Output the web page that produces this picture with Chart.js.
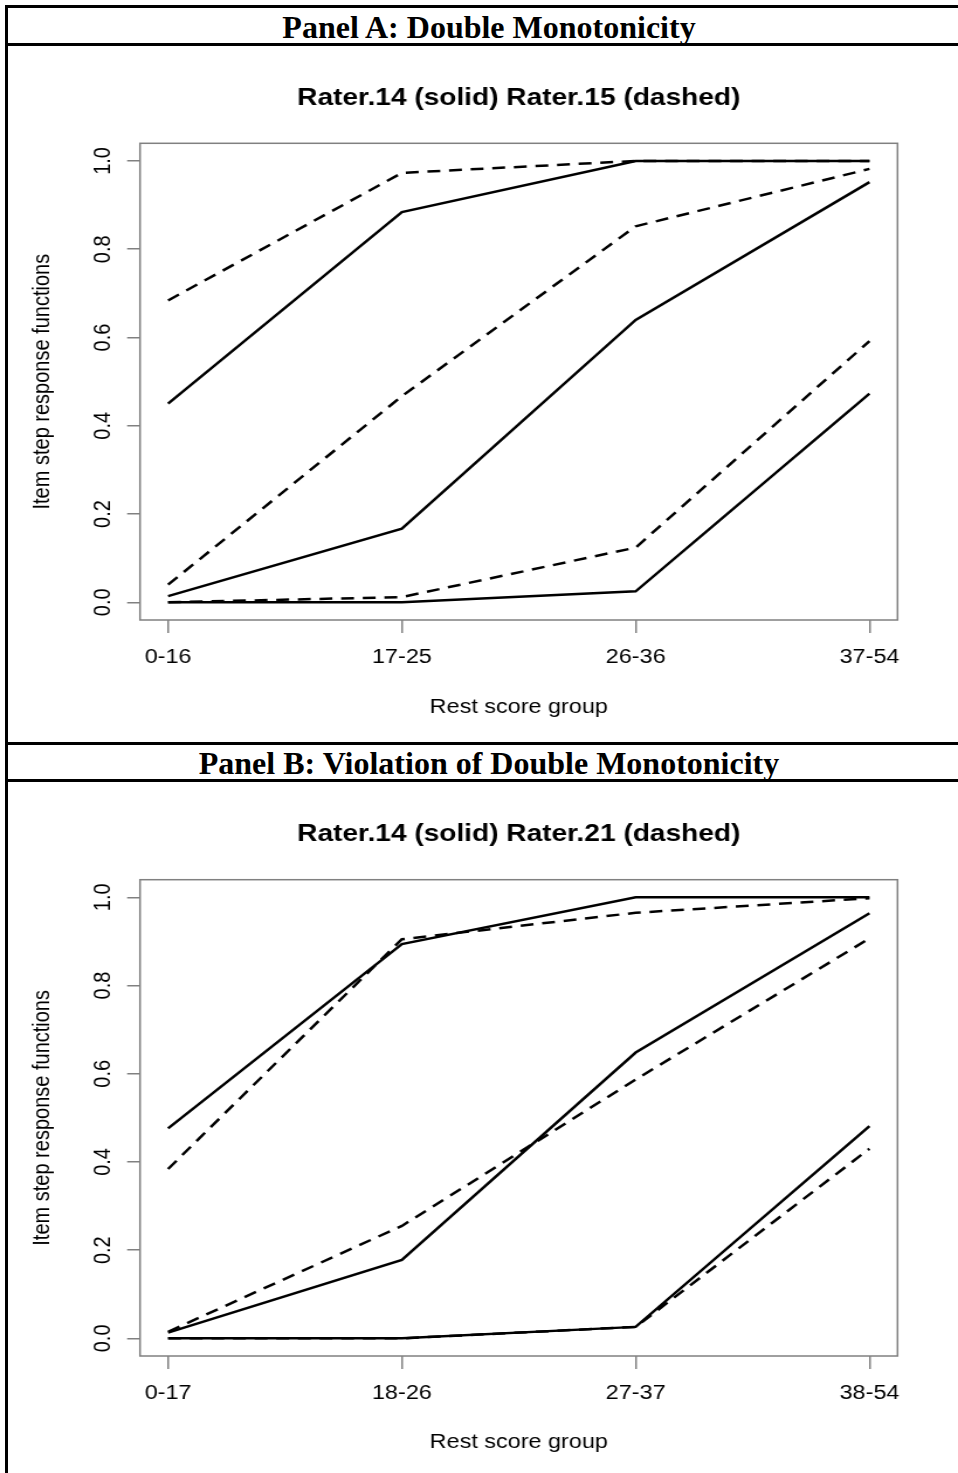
<!DOCTYPE html>
<html>
<head>
<meta charset="utf-8">
<script src="https://cdn.jsdelivr.net/npm/chart.js@4.4.1/dist/chart.umd.min.js"></script>
<style>
  body { margin: 0; background: #fff; width: 958px; height: 1473px; position: relative; overflow: hidden; }
  .rule { position: absolute; background: #000; }
  .panel-title { position: absolute; left: 8px; width: 962px; text-align: center; font: bold 32px "Liberation Serif", "Times New Roman", serif; line-height: 38px; color: #000; white-space: nowrap; }
  .plot { position: absolute; left: 0; width: 819px; transform-origin: 0 0; transform: scaleX(1.16972); }
  .plot canvas { display: block; }
</style>
</head>
<body>
<div class="plot" style="top:46px;height:695px"><canvas id="chartA" width="819" height="695"></canvas></div>
<div class="plot" style="top:782px;height:691px"><canvas id="chartB" width="819" height="691"></canvas></div>

<div class="rule" style="left:5px;top:5px;width:953px;height:3px"></div>
<div class="rule" style="left:5px;top:43px;width:953px;height:3px"></div>
<div class="rule" style="left:5px;top:742px;width:953px;height:3px"></div>
<div class="rule" style="left:5px;top:779px;width:953px;height:3px"></div>
<div class="rule" style="left:5px;top:5px;width:2.5px;height:1468px"></div>
<div class="panel-title" style="top:8px">Panel A: Double Monotonicity</div>
<div class="panel-title" style="top:744px">Panel B: Violation of Double Monotonicity</div>

<script>
const groupsA = ['0-16', '17-25', '26-36', '37-54'];
const groupsB = ['0-17', '18-26', '27-37', '38-54'];
const yTicks = [0, 0.2, 0.4, 0.6, 0.8, 1.0];

// Panel A: Rater.14 (solid) vs Rater.15 (dashed), one line per item step
const rater14A_step1 = [0.450, 0.884, 1.000, 1.000];
const rater14A_step2 = [0.014, 0.167, 0.640, 0.952];
const rater14A_step3 = [0.000, 0.000, 0.025, 0.473];
const rater15A_step1 = [0.684, 0.973, 1.000, 1.000];
const rater15A_step2 = [0.040, 0.467, 0.852, 0.982];
const rater15A_step3 = [0.000, 0.012, 0.124, 0.592];

// Panel B: Rater.14 (solid) vs Rater.21 (dashed)
const rater14B_step1 = [0.476, 0.894, 1.000, 1.000];
const rater14B_step2 = [0.013, 0.178, 0.648, 0.964];
const rater14B_step3 = [0.000, 0.000, 0.026, 0.481];
const rater21B_step1 = [0.384, 0.905, 0.965, 0.998];
const rater21B_step2 = [0.015, 0.255, 0.587, 0.907];
const rater21B_step3 = [0.000, 0.000, 0.026, 0.430];

const SANS = '"Liberation Sans", Arial, Helvetica, sans-serif';
const AXIS_GREY = '#808080';

// R-style box around the plot region
const framePlugin = {
  id: 'frame',
  beforeDatasetsDraw(chart) {
    const { ctx, chartArea: a } = chart;
    ctx.save();
    ctx.strokeStyle = AXIS_GREY;
    ctx.lineWidth = 1.5;
    ctx.strokeRect(a.left, a.top, a.right - a.left, a.bottom - a.top);
    ctx.restore();
  },
};

// R centres the main title over the plot region, not the whole canvas
const centerTitlePlugin = {
  id: 'centerTitle',
  afterLayout(chart) {
    const tb = chart.titleBlock;
    if (!tb) return;
    tb.left = chart.chartArea.left;
    tb.right = chart.chartArea.right;
    tb.width = tb.right - tb.left;
  },
};

// y tick labels run parallel to the axis, like R's default las=0
const yLabelPlugin = {
  id: 'yLabels',
  afterDraw(chart) {
    const { ctx } = chart;
    const sc = chart.scales.y;
    ctx.save();
    ctx.font = '20px ' + SANS;
    ctx.fillStyle = '#000';
    ctx.textAlign = 'center';
    ctx.textBaseline = 'middle';
    yTicks.forEach((v) => {
      ctx.save();
      ctx.translate(88, sc.getPixelForValue(v));
      ctx.rotate(-Math.PI / 2);
      ctx.fillText(v.toFixed(1), 0, 0);
      ctx.restore();
    });
    ctx.restore();
  },
};

function series(values, dash) {
  return {
    data: values.map((y, i) => ({ x: i, y })),
    borderColor: '#000',
    borderWidth: 2.5,
    borderDash: dash,
    pointRadius: 0,
    tension: 0,
    fill: false,
    clip: false,
  };
}

function drawPanel(id, groups, solid, dashed, titleText, boxTop, xAxisHeight, xTitlePad) {
  const datasets = [
    ...solid.map((v) => series(v, [])),
    ...dashed.map((v) => series(v, [11, 7.5])),
  ];
  return new Chart(document.getElementById(id), {
    type: 'line',
    data: { datasets },
    options: {
      responsive: false,
      animation: false,
      events: [],
      layout: { padding: { left: 0, right: 51.7, top: 0, bottom: 0 } },
      plugins: {
        legend: { display: false },
        tooltip: { enabled: false },
        title: {
          display: true,
          text: titleText,
          color: '#000',
          font: { family: SANS, size: 24, weight: 'bold', lineHeight: 1.2 },
          padding: { top: 37.6, bottom: boxTop - 52 - 14.4 },
        },
      },
      scales: {
        x: {
          type: 'linear',
          min: -0.12,
          max: 3.12,
          afterBuildTicks: (sc) => { sc.ticks = groups.map((g, i) => ({ value: i })); },
          afterFit: (sc) => { sc.height = xAxisHeight; },
          ticks: {
            callback: (v) => groups[v],
            autoSkip: false,
            maxRotation: 0,
            minRotation: 0,
            padding: 12,
            color: '#000',
            font: { family: SANS, size: 20, lineHeight: 1.2 },
          },
          grid: { drawOnChartArea: false, drawTicks: true, tickLength: 13, color: AXIS_GREY, lineWidth: 1.5 },
          border: { display: false },
          title: {
            display: true,
            text: 'Rest score group',
            color: '#000',
            font: { family: SANS, size: 20, lineHeight: 1.2 },
            padding: { top: 0, bottom: xTitlePad },
          },
        },
        y: {
          type: 'linear',
          min: -0.04,
          max: 1.04,
          afterBuildTicks: (sc) => { sc.ticks = yTicks.map((v) => ({ value: v })); },
          afterFit: (sc) => { sc.width = 119.7; },
          ticks: { display: false },
          grid: { drawOnChartArea: false, drawTicks: true, tickLength: 11, color: AXIS_GREY, lineWidth: 1.5 },
          border: { display: false },
          title: {
            display: true,
            text: 'Item step response functions',
            color: '#000',
            font: { family: SANS, size: 20, lineHeight: 1.2 },
            padding: { top: 24.8, bottom: 0 },
          },
        },
      },
    },
    plugins: [framePlugin, centerTitlePlugin, yLabelPlugin],
  });
}

drawPanel('chartA', groupsA,
  [rater14A_step1, rater14A_step2, rater14A_step3],
  [rater15A_step1, rater15A_step2, rater15A_step3],
  'Rater.14 (solid) Rater.15 (dashed)', 97.3, 121, 22);

drawPanel('chartB', groupsB,
  [rater14B_step1, rater14B_step2, rater14B_step3],
  [rater21B_step1, rater21B_step2, rater21B_step3],
  'Rater.14 (solid) Rater.21 (dashed)', 97.7, 117, 19);
</script>
</body>
</html>
